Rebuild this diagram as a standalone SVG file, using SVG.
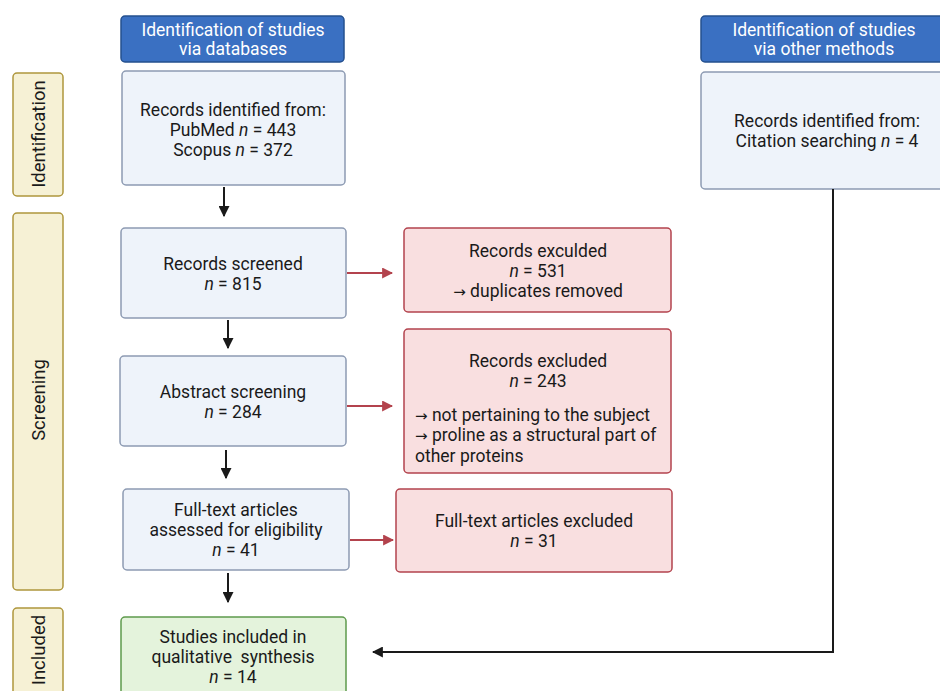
<svg xmlns="http://www.w3.org/2000/svg" width="940" height="691" viewBox="0 0 940 691">
<style>
text{font-family:Roboto,"Liberation Sans",sans-serif;font-size:17.5px;fill:#1a1a1a}
.c{text-anchor:middle}
.side{font-size:18.5px}
.ar{font-family:"DejaVu Sans",sans-serif;font-size:15px}
.hd{fill:#3a70c2;stroke:#24508f;stroke-width:1.5}
.hd-t{fill:#ffffff}
.bx{fill:#eef3fa;stroke:#8d9bb3;stroke-width:1.5}
.rd{fill:#f9dfe0;stroke:#b3434d;stroke-width:1.5}
.gr{fill:#e4f3dc;stroke:#5e9a4c;stroke-width:1.5}
.tab{fill:#f6f1d5;stroke:#ae963c;stroke-width:1.5}
.k{stroke:#1a1a1a;stroke-width:2;fill:none}
.r{stroke:#b3434d;stroke-width:2;fill:none}
</style>
<defs>
<marker id="ak" viewBox="0 0 10 10" refX="9" refY="5" markerWidth="5.5" markerHeight="5.5" orient="auto" markerUnits="strokeWidth"><path d="M0,0 L10,5 L0,10 z" fill="#1a1a1a"/></marker>
<marker id="ar" viewBox="0 0 10 10" refX="9" refY="5" markerWidth="5.5" markerHeight="5.5" orient="auto" markerUnits="strokeWidth"><path d="M0,0 L10,5 L0,10 z" fill="#b3434d"/></marker>
</defs>
<rect width="940" height="691" fill="#ffffff"/>
<g id="tab-identification"><rect class="tab" x="13" y="73" width="50" height="123" rx="4"/><text class="c side" transform="translate(45,134) rotate(-90)">Identification</text></g>
<g id="tab-screening"><rect class="tab" x="13" y="213" width="50" height="377" rx="4"/><text class="c side" transform="translate(45,400) rotate(-90)">Screening</text></g>
<g id="tab-included"><rect class="tab" x="13" y="608" width="50" height="95" rx="4"/><text class="c side" transform="translate(45,650) rotate(-90)">Included</text></g>
<g id="head-db"><rect class="hd" x="121" y="16" width="223" height="46" rx="4"/><text class="c hd-t" x="233" y="36">Identification of studies</text><text class="c hd-t" x="233" y="55">via databases</text></g>
<g id="head-other"><rect class="hd" x="701" y="16" width="252" height="46" rx="4"/><text class="c hd-t" x="824" y="36">Identification of studies</text><text class="c hd-t" x="824" y="55">via other methods</text></g>
<g id="records-identified"><rect class="bx" x="122" y="71" width="223" height="114" rx="4"/><text class="c" x="233" y="116">Records identified from:</text><text class="c" x="233" y="136">PubMed <tspan font-style="italic">n</tspan> = 443</text><text class="c" x="233" y="156">Scopus <tspan font-style="italic">n</tspan> = 372</text></g>
<g id="records-other"><rect class="bx" x="701" y="72" width="252" height="117" rx="4"/><text class="c" x="827" y="127">Records identified from:</text><text class="c" x="827" y="147">Citation searching <tspan font-style="italic">n</tspan> = 4</text></g>
<g id="records-screened"><rect class="bx" x="121" y="228" width="225" height="90" rx="4"/><text class="c" x="233" y="270">Records screened</text><text class="c" x="233" y="290"><tspan font-style="italic">n</tspan> = 815</text></g>
<g id="excluded-1"><rect class="rd" x="404" y="228" width="267" height="84" rx="4"/><text class="c" x="538" y="257">Records exculded</text><text class="c" x="538" y="277"><tspan font-style="italic">n</tspan> = 531</text><text class="c" x="538" y="297"><tspan class="ar">→</tspan> duplicates removed</text></g>
<g id="abstract-screening"><rect class="bx" x="120" y="356" width="226" height="90" rx="4"/><text class="c" x="233" y="398">Abstract screening</text><text class="c" x="233" y="418"><tspan font-style="italic">n</tspan> = 284</text></g>
<g id="excluded-2"><rect class="rd" x="404" y="329" width="267" height="144" rx="4"/><text class="c" x="538" y="367">Records excluded</text><text class="c" x="538" y="387"><tspan font-style="italic">n</tspan> = 243</text><text x="415" y="421"><tspan class="ar">→</tspan> not pertaining to the subject</text><text x="415" y="441"><tspan class="ar">→</tspan> proline as a structural part of</text><text x="415" y="462">other proteins</text></g>
<g id="full-text"><rect class="bx" x="123" y="489" width="226" height="81" rx="4"/><text class="c" x="236" y="516">Full-text articles</text><text class="c" x="236" y="536">assessed for eligibility</text><text class="c" x="236" y="556"><tspan font-style="italic">n</tspan> = 41</text></g>
<g id="excluded-3"><rect class="rd" x="396" y="489" width="276" height="83" rx="4"/><text class="c" x="534" y="527">Full-text articles excluded</text><text class="c" x="534" y="547"><tspan font-style="italic">n</tspan> = 31</text></g>
<g id="included"><rect class="gr" x="121" y="617" width="225" height="90" rx="4"/><text class="c" x="233" y="643">Studies included in</text><text class="c" x="233" y="663" style="white-space:pre">qualitative  synthesis</text><text class="c" x="233" y="683"><tspan font-style="italic">n</tspan> = 14</text></g>
<g id="connectors">
<path class="k" d="M224,187 V216" marker-end="url(#ak)"/>
<path class="k" d="M228,320 V348" marker-end="url(#ak)"/>
<path class="k" d="M226,450 V478" marker-end="url(#ak)"/>
<path class="k" d="M228,573 V602" marker-end="url(#ak)"/>
<path class="r" d="M347,273 H392" marker-end="url(#ar)"/>
<path class="r" d="M347,406 H392" marker-end="url(#ar)"/>
<path class="r" d="M350,540 H393" marker-end="url(#ar)"/>
<path class="k" d="M833,189 V652 H373" marker-end="url(#ak)"/>
</g>
</svg>
